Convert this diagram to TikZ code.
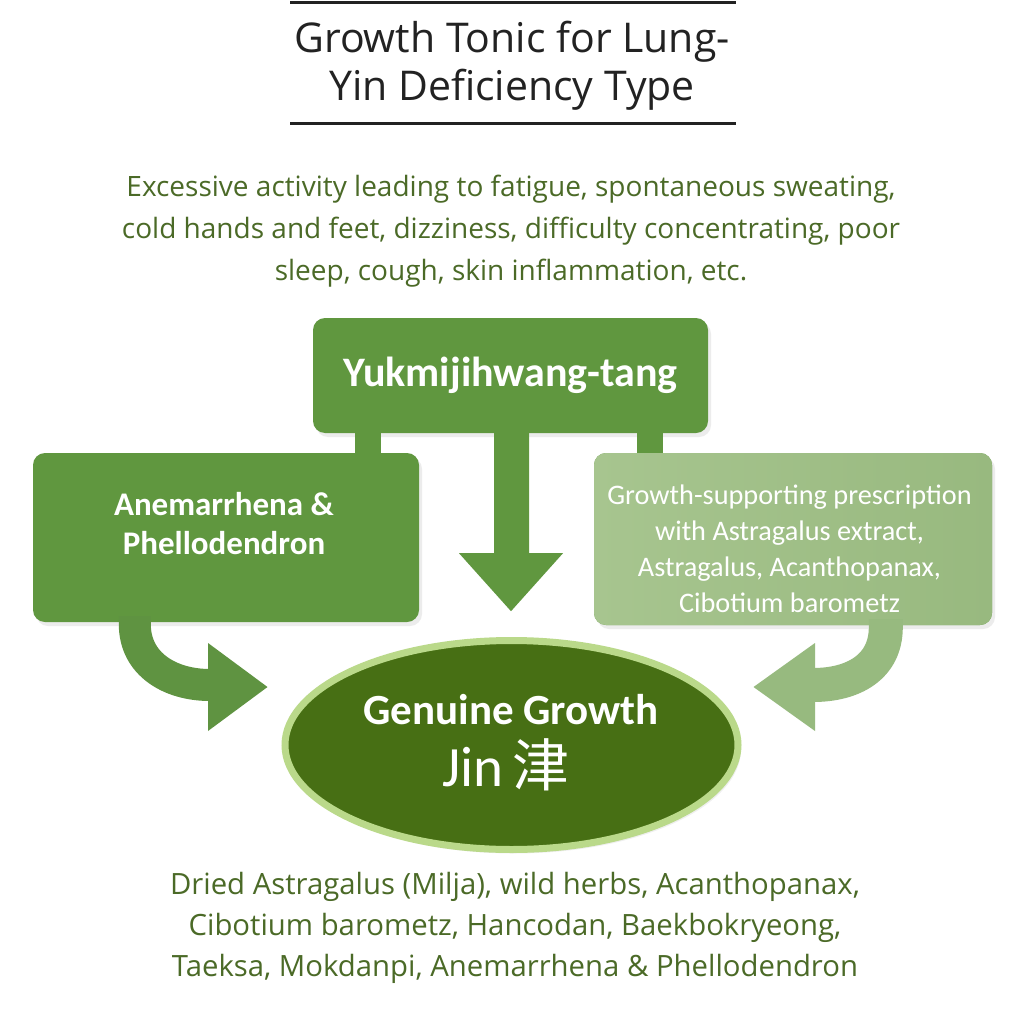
\documentclass[tikz,border=0pt]{standalone}
\usepackage{fontspec}
\setmainfont{Open Sans}
\newfontfamily\boxfont{Carlito}
\newfontfamily\cjk{Noto Sans CJK SC}
\usetikzlibrary{shapes.geometric,shadows,calc}
\definecolor{boxgreen}{HTML}{60973F}
\definecolor{lightbox}{HTML}{A0BF88}
\definecolor{lightboxA}{HTML}{A7C58F}
\definecolor{lightboxB}{HTML}{98B97F}
\definecolor{leftarrow}{HTML}{5F9341}
\definecolor{rightarrow}{HTML}{97BA7F}
\definecolor{ellfill}{HTML}{476F14}
\definecolor{ellrim}{HTML}{BAD98A}
\definecolor{desctext}{HTML}{4B6A27}
\definecolor{titletext}{HTML}{222222}
\tikzset{
  greenbox/.style={rectangle, rounded corners=12pt, fill=boxgreen, text=white, align=center, inner sep=0pt,
    drop shadow={opacity=0.15, shadow xshift=3pt, shadow yshift=-4pt}},
  boxlabel/.style={text=white, align=center, inner sep=0pt},
  desc/.style={text=desctext, align=center, inner sep=0pt},
}
\begin{document}
\begin{tikzpicture}[x=1pt,y=-1pt]
\useasboundingbox (0,0) rectangle (1024,1024);
\fill[white] (0,0) rectangle (1024,1024);
% title
\coordinate (tl1) at (290,3);
\coordinate (tr1) at (736,3);
\coordinate (tl2) at (290,124);
\coordinate (tr2) at (736,124);
\draw[titletext, line width=3pt] (tl1) -- (tr1);
\draw[titletext, line width=3pt] (tl2) -- (tr2);
\node[text=titletext, align=center, inner sep=0pt, font=\fontsize{41}{48}\selectfont] (title) at (512,66) {Growth Tonic for Lung-\\Yin Deficiency Type};
% description
\node[desc, font=\fontsize{28}{42}\selectfont] (symptoms) at (511,231) {Excessive activity leading to fatigue, spontaneous sweating,\\cold hands and feet, dizziness, difficulty concentrating, poor\\sleep, cough, skin inflammation, etc.};
% top box, stubs and down arrow
\node[greenbox, minimum width=395pt, minimum height=115pt] (top) at (510.5,375.5) {};
\node[boxlabel, font=\boxfont\bfseries\fontsize{42}{44}\selectfont] (toplabel) at (top.center) {Yukmijihwang-tang};
\fill[boxgreen] ($(top.south west)+(42,-4)$) rectangle ($(top.south west)+(68,22)$);
\fill[boxgreen] ($(top.south west)+(324,-4)$) rectangle ($(top.south west)+(350,22)$);
\fill[boxgreen] ($(top.south)+(-16.5,-2)$) -- ($(top.south)+(18.5,-2)$) -- ($(top.south)+(18.5,120)$) -- ($(top.south)+(52.5,120)$) -- ($(top.south)+(0.5,178)$) -- ($(top.south)+(-51.5,120)$) -- ($(top.south)+(-16.5,120)$) -- cycle;
% side boxes
\node[greenbox, minimum width=386pt, minimum height=169pt] (left) at (226,537.5) {};
\node[boxlabel, font=\boxfont\bfseries\fontsize{33}{39}\selectfont] (leftlabel) at (224,524) {Anemarrhena \&\\Phellodendron};
\node[greenbox, left color=lightboxA, right color=lightboxB, minimum width=398pt, minimum height=172pt] (right) at (793,539) {};
\node[boxlabel, font=\boxfont\fontsize{28.3}{36}\selectfont] (rightlabel) at (789.5,549) {Growth-supporting prescription\\with Astragalus extract,\\Astragalus, Acanthopanax,\\Cibotium barometz};
% central ellipse
\node[ellipse, fill=ellfill, draw=ellrim, line width=7pt, minimum width=453pt, minimum height=209pt, inner sep=0pt,
  drop shadow={opacity=0.12, shadow xshift=3pt, shadow yshift=-4pt}] (jin) at (511.5,745) {};
\node[boxlabel, font=\boxfont\bfseries\fontsize{43}{46}\selectfont] (jin1) at (511,710) {Genuine Growth};
\node[boxlabel, font=\boxfont\fontsize{57}{60}\selectfont] (jin2) at (506,765) {Jin\,{\cjk 津}};
% curved arrows
\coordinate (la0) at ($(left.south west)+(102,-6)$);
\coordinate (la1) at (210,685);
\draw[leftarrow, line width=32pt] (la0) -- ++(0,8) .. controls ++(0,40) and (170,685) .. (la1);
\fill[leftarrow] (208,643) -- ($(jin.west)+(-14,-58)$) -- (208,731) -- cycle;
\coordinate (ra0) at ($(right.south west)+(292,-6)$);
\coordinate (ra1) at (813,685);
\draw[rightarrow, line width=34pt] (ra0) -- ++(0,8) .. controls ++(0,40) and (853,685) .. (ra1);
\fill[rightarrow] (815,643) -- ($(jin.east)+(12,-58)$) -- (815,731) -- cycle;
% ingredients
\node[desc, font=\fontsize{29.3}{41}\selectfont] (herbs) at (515,928) {Dried Astragalus (Milja), wild herbs, Acanthopanax,\\Cibotium barometz, Hancodan, Baekbokryeong,\\Taeksa, Mokdanpi, Anemarrhena \& Phellodendron};
\end{tikzpicture}
\end{document}
